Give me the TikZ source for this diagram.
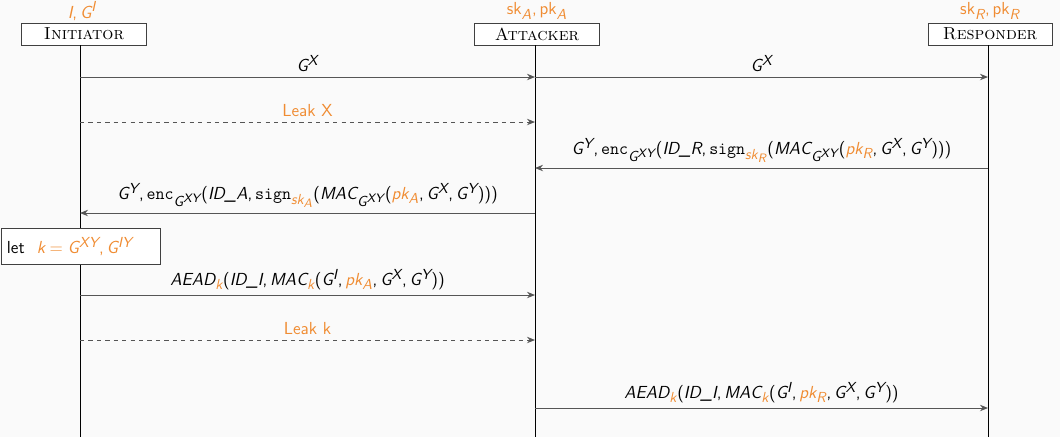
\documentclass[tikz,border=0pt]{standalone}
\usepackage{amsmath}
\renewcommand{\familydefault}{\sfdefault}
\usepackage[italic]{mathastext}
\usepackage{xcolor}
\definecolor{keyorange}{HTML}{F08C32}
\definecolor{msggray}{HTML}{555555}
\definecolor{bggray}{HTML}{FAFAFA}
\usepackage{tikz}
\usetikzlibrary{arrows.meta, positioning}
\newcommand{\hl}[1]{\textcolor{keyorange}{#1}}
\newcommand{\picsize}{\fontsize{12.4}{14.8}\selectfont}

\begin{document}
\begin{tikzpicture}[x=0.025cm, y=-0.025cm,
    every node/.style = {font=\sffamily\picsize},
    actor/.style = {rectangle, draw=black!75, line width=0.7pt, fill=white,
                    minimum width=3.1cm, minimum height=0.55cm, inner sep=0pt,
                    font=\rmfamily\scshape\picsize},
    owns/.style  = {text=keyorange},
    life/.style  = {black, line width=0.5pt},
    msg/.style   = {-{Stealth[length=2mm, width=1.6mm]}, msggray, line width=0.7pt},
    leak/.style  = {msg, dashed},
    lbl/.style   = {above=0pt, midway, text=black},
    letbox/.style = {rectangle, draw=black!75, line width=0.7pt, fill=white,
                     minimum width=3.95cm, minimum height=0.92cm,
                     text width=3.7cm, align=left},
  ]
    % ── Canvas ───────────────────────────────────────────────
    \fill[bggray] (0,0) rectangle (1060,437);
    \useasboundingbox (0,0) rectangle (1060,437);

    % ── Actors ───────────────────────────────────────────────
    \node[actor] (ini) at (84,34)  {Initiator};
    \node[actor] (att) at (537,34) {Attacker};
    \node[actor] (res) at (990,34) {Responder};
    \node[owns] at (82,11)  {$I, G^{I}$};
    \node[owns] at (537,11) {$\text{sk}_{A}, \text{pk}_{A}$};
    \node[owns] at (990,11) {$\text{sk}_{R}, \text{pk}_{R}$};

    % ── Lifelines ────────────────────────────────────────────
    \coordinate (iniT) at (80,45);  \coordinate (iniB) at (80,437);
    \coordinate (attT) at (535,45); \coordinate (attB) at (535,437);
    \coordinate (resT) at (988,45); \coordinate (resB) at (988,437);
    \draw[life] (iniT) -- (iniB);
    \draw[life] (attT) -- (attB);
    \draw[life] (resT) -- (resB);

    % ── Message anchors ──────────────────────────────────────
    \foreach \row/\y in {1/77, 2/122, 3/168, 4/213, 5/295, 6/340, 7/408} {
      \coordinate (i\row) at (80,\y);
      \coordinate (a\row) at (535,\y);
      \coordinate (r\row) at (988,\y);
    }

    % ── Messages ─────────────────────────────────────────────
    \draw[msg]  (i1) -- node[lbl] {$G^{X}$} (a1);
    \draw[msg]  (a1) -- node[lbl] {$G^{X}$} (r1);
    \draw[leak] (i2) -- node[lbl, owns] {Leak X} (a2);
    \draw[msg]  (r3) -- node[lbl] {$G^{Y}, \texttt{enc}_{G^{XY}}(\textit{ID\_R}, \texttt{sign}_{\hl{sk_{R}}}(MAC_{G^{XY}}(\hl{pk_{R}}, G^{X}, G^{Y})))$} (a3);
    \draw[msg]  (a4) -- node[lbl] {$G^{Y}, \texttt{enc}_{G^{XY}}(\textit{ID\_A}, \texttt{sign}_{\hl{sk_{A}}}(MAC_{G^{XY}}(\hl{pk_{A}}, G^{X}, G^{Y})))$} (i4);

    % ── Key derivation ───────────────────────────────────────
    \node[letbox] (let) at (81,246.5) {let\hspace{0.3cm}\hl{$k = G^{XY}, G^{IY}$}};

    \draw[msg]  (i5) -- node[lbl] {$AEAD_{\hl{k}}(\textit{ID\_I}, MAC_{\hl{k}}(G^{I}, \hl{pk_{A}}, G^{X}, G^{Y}))$} (a5);
    \draw[leak] (i6) -- node[lbl, owns] {Leak k} (a6);
    \draw[msg]  (a7) -- node[lbl] {$AEAD_{\hl{k}}(\textit{ID\_I}, MAC_{\hl{k}}(G^{I}, \hl{pk_{R}}, G^{X}, G^{Y}))$} (r7);

  \end{tikzpicture}
\end{document}
